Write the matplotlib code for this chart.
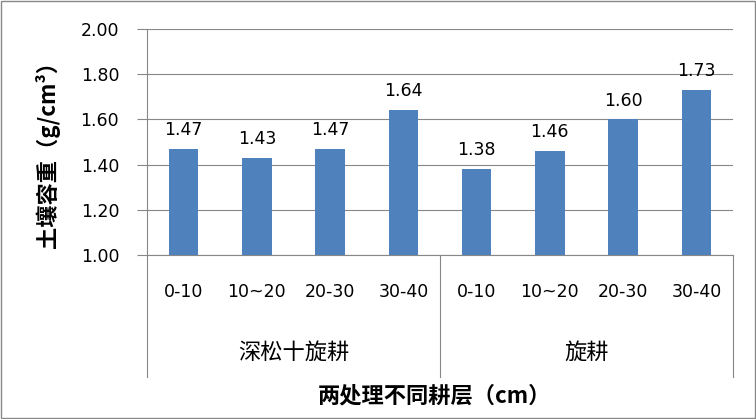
import matplotlib
matplotlib.use("Agg")
import matplotlib.pyplot as plt
from matplotlib.lines import Line2D

plt.rcParams['font.family'] = ['DejaVu Sans', 'Noto Sans CJK SC']

layers = ['0-10', '10~20', '20-30', '30-40', '0-10', '10~20', '20-30', '30-40']
groups = ['深松十旋耕', '旋耕']
density = [1.47, 1.43, 1.47, 1.64, 1.38, 1.46, 1.60, 1.73]
yticks = [1.00, 1.20, 1.40, 1.60, 1.80, 2.00]

bar_color = '#4F81BD'
grid_color = '#878787'
cjk = ['Noto Sans CJK SC', 'DejaVu Sans']

fig = plt.figure(figsize=(7.56, 4.19), dpi=100)
ax = fig.add_axes([147 / 756, 1 - 255 / 419, (733 - 147) / 756, (255 - 29) / 419])

x = list(range(len(density)))
ax.bar(x, [v - 1.0 for v in density], bottom=1.0, width=0.4,
       color=bar_color, zorder=3)
for xi, v in zip(x, density):
    ax.annotate(f'{v:.2f}', (xi, v), xytext=(0, 10), textcoords='offset points',
                ha='center', va='baseline', fontsize=12.5, color='#000000')

ax.set_xlim(-0.5, len(density) - 0.5)
ax.set_ylim(1.0, 2.0)
ax.set_yticks(yticks)
ax.set_yticklabels([f'{t:.2f}' for t in yticks], fontsize=12.5)
ax.yaxis.grid(True, color=grid_color, linewidth=0.8, zorder=0)
ax.tick_params(axis='y', length=7, width=0.8, color=grid_color, pad=13)
ax.set_xticks(x)
ax.set_xticklabels(layers, fontsize=12.5)
ax.tick_params(axis='x', length=0, pad=20)

for side in ['top', 'right']:
    ax.spines[side].set_visible(False)
for side in ['left', 'bottom']:
    ax.spines[side].set_color(grid_color)
    ax.spines[side].set_linewidth(0.8)

# group labels and separators of the two-level category axis
tr = ax.get_xaxis_transform()
n_per = len(layers) // len(groups)
for gi, g in enumerate(groups):
    center = gi * n_per + (n_per - 1) / 2
    ax.text(center, -0.431, g, transform=tr, ha='center', va='center',
            fontsize=16, family=cjk)
for sx in [-0.5, n_per - 0.5, len(layers) - 0.5]:
    ax.add_line(Line2D([sx, sx], [0, -0.54], transform=tr, color=grid_color,
                       linewidth=0.8, clip_on=False))

ax.set_xlabel('两处理不同耕层（cm）', fontsize=16, fontweight='bold', family=cjk,
              va='center')
ax.xaxis.set_label_coords(0.49, -0.624)
ax.set_ylabel('土壤容重（g/cm³）', fontsize=16, fontweight='bold', family=cjk,
              va='center')
ax.yaxis.set_label_coords(-0.169, 0.471)

fig.patches.append(plt.Rectangle((0.0007, 0.0012), 0.9986, 0.9976, transform=fig.transFigure,
                                 fill=False, edgecolor='#888888', linewidth=1.0))

fig.savefig('out.png', dpi=100)
